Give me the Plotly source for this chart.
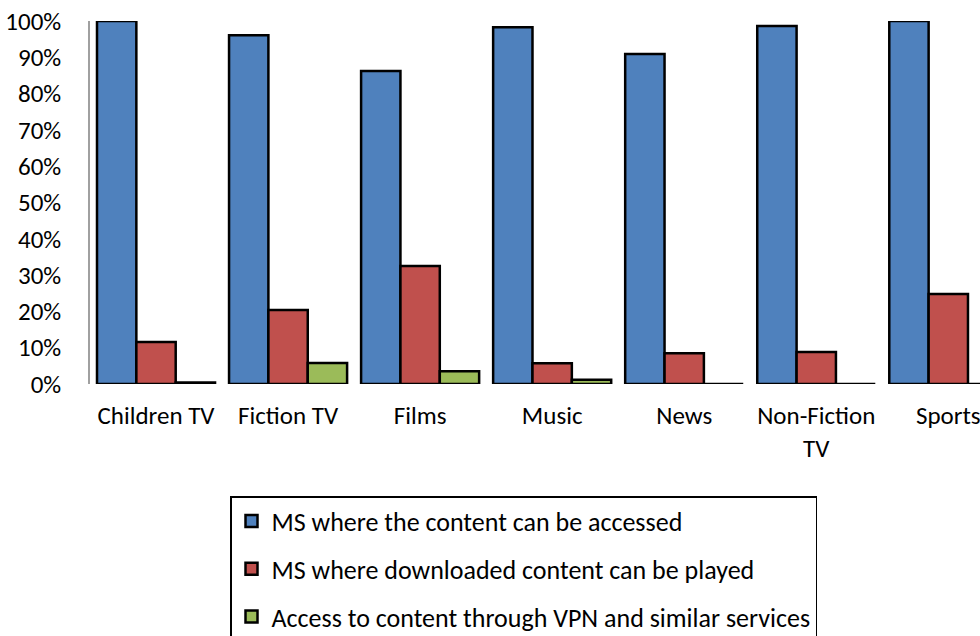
import plotly.graph_objects as go

categories = ["Children TV", "Fiction TV", "Films", "Music", "News", "Non-Fiction<br>TV", "Sports"]
accessed = [1.00, 0.961, 0.862, 0.983, 0.909, 0.986, 1.00]
downloaded = [0.116, 0.204, 0.325, 0.057, 0.085, 0.088, 0.248]
vpn = [0.004, 0.058, 0.035, 0.012, 0.0, 0.0, 0.0]
series_names = [
    "MS where the content can be accessed",
    "MS where downloaded content can be played",
    "Access to content through VPN and similar services",
]
colors = ["#4F81BD", "#C0504D", "#9BBB59"]
y_ticks = [0, 0.1, 0.2, 0.3, 0.4, 0.5, 0.6, 0.7, 0.8, 0.9, 1.0]
y_labels = ["0%", "10%", "20%", "30%", "40%", "50%", "60%", "70%", "80%", "90%", "100%"]

FONT = "Carlito, Calibri, Lato, sans-serif"

fig = go.Figure()
for i, (vals, name) in enumerate(zip([accessed, downloaded, vpn], series_names)):
    fig.add_trace(go.Bar(
        x=categories, y=vals, name=name, legendgroup=f"g{i}",
        marker=dict(color=colors[i], line=dict(color="black", width=2.5)),
    ))

fig.update_layout(
    width=980, height=636,
    margin=dict(l=90, r=0, t=21, b=252, autoexpand=False),
    plot_bgcolor="white", paper_bgcolor="white",
    barmode="group", bargap=0.106, bargroupgap=0,
    font=dict(family=FONT, size=25, color="black"),
    xaxis=dict(range=[-0.5, 6.24], showline=False, showgrid=False, ticks="",
               tickfont=dict(size=25), ticklabelstandoff=14, automargin=False),
    yaxis=dict(range=[0, 1.0], tickvals=y_ticks, ticktext=y_labels, showgrid=False,
               showline=True, linecolor="#A0A0A0", linewidth=1.5, ticks="",
               zeroline=False, tickfont=dict(size=25), ticklabelstandoff=22, automargin=False),
    legend=dict(x=(230 - 90) / 890, y=(384 - 496) / 363, xanchor="left", yanchor="top",
                bordercolor="black", borderwidth=1.5, bgcolor="white",
                font=dict(size=26), tracegroupgap=11, itemwidth=30),
    showlegend=True,
)

fig.write_html("out.html", config={"displayModeBar": False},
               post_script="document.body.style.margin='0px';document.body.style.overflow='hidden';")
